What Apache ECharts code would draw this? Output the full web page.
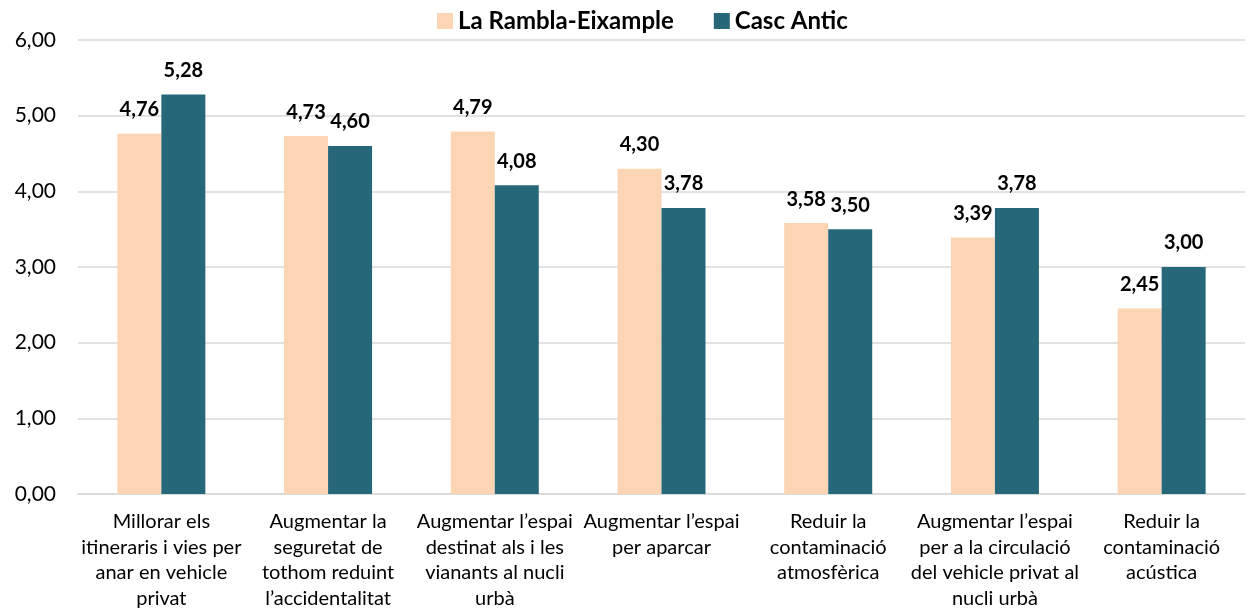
<!DOCTYPE html>
<html>
<head>
<meta charset="utf-8">
<script src="https://cdn.jsdelivr.net/npm/echarts@6/dist/echarts.min.js"></script>
<style>
  html, body { margin: 0; padding: 0; background: #fff; }
  #chart { width: 1250px; height: 611px; }
</style>
</head>
<body>
<div id="chart"></div>
<script>
const categories = [
  'Millorar els\nitineraris i vies per\nanar en vehicle\nprivat',
  'Augmentar la\nseguretat de\ntothom reduint\nl’accidentalitat',
  'Augmentar l’espai\ndestinat als i les\nvianants al nucli\nurbà',
  'Augmentar l’espai\nper aparcar',
  'Reduir la\ncontaminació\natmosfèrica',
  'Augmentar l’espai\nper a la circulació\ndel vehicle privat al\nnucli urbà',
  'Reduir la\ncontaminació\nacústica'
];
const ramblaEixample = [4.76, 4.73, 4.79, 4.30, 3.58, 3.39, 2.45];
const cascAntic = [5.28, 4.60, 4.08, 3.78, 3.50, 3.78, 3.00];

const fmt = v => v.toFixed(2).replace('.', ',');
const font = 'Lato, "Open Sans", sans-serif';

const chart = echarts.init(document.getElementById('chart'));

const labelStyle = {
  show: true,
  position: 'top',
  distance: 14,
  fontFamily: font,
  fontWeight: 'bold',
  fontSize: 20,
  color: '#000',
  formatter: p => fmt(p.value)
};

chart.setOption({
  animation: false,
  textStyle: { fontFamily: font },
  legend: {
    top: 4,
    left: 432,
    itemWidth: 16,
    itemHeight: 16,
    itemGap: 40,
    icon: 'rect',
    textStyle: { fontFamily: font, fontWeight: 'bold', fontSize: 24, color: '#000' },
    data: ['La Rambla-Eixample', 'Casc Antic']
  },
  grid: { left: 78, right: 5, top: 40, bottom: 117 },
  xAxis: {
    type: 'category',
    data: categories,
    axisTick: { show: false },
    axisLine: { lineStyle: { color: '#D9D9D9', width: 1.5 } },
    axisLabel: {
      interval: 0,
      margin: 15,
      fontFamily: font,
      fontSize: 20,
      lineHeight: 25.5,
      color: '#000'
    }
  },
  yAxis: {
    type: 'value',
    min: 0,
    max: 6,
    interval: 1,
    axisLine: { show: false },
    axisTick: { show: false },
    splitLine: { lineStyle: { color: '#D9D9D9', width: 1.5 } },
    axisLabel: {
      margin: 22,
      fontFamily: font,
      fontSize: 21,
      color: '#000',
      formatter: v => fmt(v)
    }
  },
  series: [
    {
      name: 'La Rambla-Eixample',
      type: 'bar',
      data: ramblaEixample,
      barWidth: 44,
      barGap: '0%',
      itemStyle: { color: '#FCD5B5' },
      label: labelStyle
    },
    {
      name: 'Casc Antic',
      type: 'bar',
      data: cascAntic,
      barWidth: 44,
      barGap: '0%',
      itemStyle: { color: '#26687A' },
      label: labelStyle
    }
  ]
});
</script>
</body>
</html>
